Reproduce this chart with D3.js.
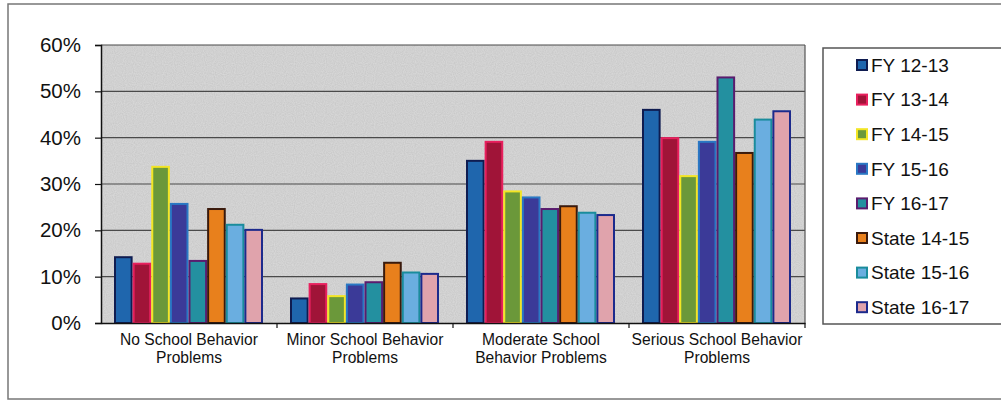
<!DOCTYPE html>
<html>
<head>
<meta charset="utf-8">
<script src="https://cdn.jsdelivr.net/npm/d3@7"></script>
<style>
  html, body { margin: 0; padding: 0; background: #ffffff; }
  svg { display: block; font-family: "Liberation Sans", Arial, sans-serif; }
</style>
</head>
<body>
<svg id="chart" width="1001" height="402"></svg>
<script>
// ---- data ----
const categories = [
  "No School Behavior Problems",
  "Minor School Behavior Problems",
  "Moderate School Behavior Problems",
  "Serious School Behavior Problems"
];
const categoryLines = [
  ["No School Behavior", "Problems"],
  ["Minor School Behavior", "Problems"],
  ["Moderate School", "Behavior Problems"],
  ["Serious School Behavior", "Problems"]
];
const seriesNames = ["FY 12-13", "FY 13-14", "FY 14-15", "FY 15-16", "FY 16-17", "State 14-15", "State 15-16", "State 16-17"];
const fy1213 = [14.2, 5.3, 35.0, 46.0];
const fy1314 = [12.8, 8.4, 39.1, 39.9];
const fy1415 = [33.7, 5.8, 28.4, 31.7];
const fy1516 = [25.7, 8.3, 27.1, 39.1];
const fy1617 = [13.4, 8.8, 24.6, 53.0];
const st1415 = [24.6, 13.0, 25.2, 36.7];
const st1516 = [21.2, 10.9, 23.8, 43.9];
const st1617 = [20.1, 10.6, 23.3, 45.7];
const seriesValues = [fy1213, fy1314, fy1415, fy1516, fy1617, st1415, st1516, st1617];
const yTicks = [0, 10, 20, 30, 40, 50, 60];

// ---- styles ----
const fills   = ["#1f66ad", "#a01438", "#6b983a", "#3b3a98", "#2390a0", "#e8801c", "#6aaee0", "#e0a3ac"];
const strokes = ["#0f1c50", "#e8205e", "#f2e524", "#2a78c4", "#5a1c6e", "#3a1a0c", "#1a8c9c", "#1c2a8c"];

const svg = d3.select("#chart");
const L = 101, R = 805, T = 45, B = 323;

// outer frame
svg.append("rect").attr("x", 8).attr("y", 4).attr("width", 1010).attr("height", 395)
  .attr("fill", "#ffffff").attr("stroke", "#777").attr("stroke-width", 1.5);

// noise filter for scanned grey background
const defs = svg.append("defs");
const f = defs.append("filter").attr("id", "grain").attr("x", 0).attr("y", 0).attr("width", 1).attr("height", 1);
f.append("feTurbulence").attr("type", "fractalNoise").attr("baseFrequency", 0.9).attr("numOctaves", 1).attr("seed", 3).attr("result", "n");
f.append("feColorMatrix").attr("in", "n").attr("type", "matrix")
  .attr("values", "0 0 0 0 0.92  0 0 0 0 0.92  0 0 0 0 0.92  0.45 0 0 0 0").attr("result", "g");
f.append("feComposite").attr("in", "g").attr("in2", "SourceGraphic").attr("operator", "in").attr("result", "gm");
f.append("feMerge").selectAll("feMergeNode").data(["SourceGraphic", "gm"]).join("feMergeNode").attr("in", d => d);

const y = d3.scaleLinear().domain([0, 60]).range([B, T]);
const x0 = d3.scaleBand().domain(categories).range([L, R]).padding(0);
const x1 = d3.scaleBand().domain(seriesNames).range([13, 162]).padding(0);

// plot background
svg.append("rect").attr("x", L).attr("y", T).attr("width", R - L).attr("height", B - T)
  .attr("fill", "#c4c4c4").attr("filter", "url(#grain)");

// gridlines
svg.append("g").selectAll("line").data(yTicks.filter(d => d > 0)).join("line")
  .attr("x1", L).attr("x2", R).attr("y1", d => y(d)).attr("y2", d => y(d))
  .attr("stroke", "#4a4a4a").attr("stroke-width", 1.2);

// plot border right
svg.append("line").attr("x1", R).attr("x2", R).attr("y1", T).attr("y2", B)
  .attr("stroke", "#555").attr("stroke-width", 1.2);

// bars
const groups = svg.append("g").selectAll("g").data(categories).join("g")
  .attr("transform", c => `translate(${x0(c)},0)`);
groups.selectAll("rect").data((c, ci) => seriesNames.map((s, si) => ({ s, si, v: seriesValues[si][ci] })))
  .join("rect")
  .attr("x", d => x1(d.s) + 1)
  .attr("width", x1.bandwidth() - 2)
  .attr("y", d => y(d.v))
  .attr("height", d => y(0) - y(d.v))
  .attr("fill", d => fills[d.si])
  .attr("stroke", d => strokes[d.si])
  .attr("stroke-width", 2);

// y axis
const yAxis = d3.axisLeft(y).tickValues(yTicks).tickFormat(d => d + "%").tickSize(6).tickPadding(14);
const ya = svg.append("g").attr("transform", `translate(${L},0)`).call(yAxis);
ya.select(".domain").attr("stroke", "#111").attr("stroke-width", 1.5);
ya.selectAll(".tick line").attr("stroke", "#111").attr("stroke-width", 1.2);
ya.selectAll(".tick text").attr("font-size", 20.5).attr("fill", "#111")
  .attr("font-family", "'Liberation Sans', Arial, sans-serif");

// x axis
const xa = svg.append("g").attr("transform", `translate(0,${B})`)
  .call(d3.axisBottom(x0).tickSize(0).tickFormat(""));
xa.select(".domain").attr("stroke", "#111").attr("stroke-width", 1.5);
svg.append("g").selectAll("line").data(categories).join("line")
  .attr("x1", c => x0(c) + x0.bandwidth()).attr("x2", c => x0(c) + x0.bandwidth())
  .attr("y1", B).attr("y2", B + 5).attr("stroke", "#111").attr("stroke-width", 1.2);

// category labels
const cl = svg.append("g").selectAll("text").data(categories).join("text")
  .attr("x", c => x0(c) + x0.bandwidth() / 2)
  .attr("y", 345)
  .attr("text-anchor", "middle")
  .attr("font-size", 15.6)
  .attr("fill", "#111");
cl.selectAll("tspan").data((c, i) => categoryLines[i]).join("tspan")
  .attr("x", function () { return d3.select(this.parentNode).attr("x"); })
  .attr("dy", (d, i) => i === 0 ? 0 : 18)
  .text(d => d);

// legend
svg.append("rect").attr("x", 823).attr("y", 48).attr("width", 200).attr("height", 276)
  .attr("fill", "#ffffff").attr("stroke", "#555").attr("stroke-width", 1.5);
const lg = svg.append("g").selectAll("g").data(seriesNames).join("g")
  .attr("transform", (d, i) => `translate(857,${65 + i * 34.6})`);
lg.append("rect").attr("x", 0).attr("y", -5).attr("width", 10).attr("height", 10)
  .attr("fill", (d, i) => fills[i]).attr("stroke", (d, i) => strokes[i]).attr("stroke-width", 2);
lg.append("text").attr("x", 14).attr("y", 0).attr("dy", "0.36em")
  .attr("font-size", 19).attr("fill", "#111").text(d => d);
</script>
</body>
</html>
